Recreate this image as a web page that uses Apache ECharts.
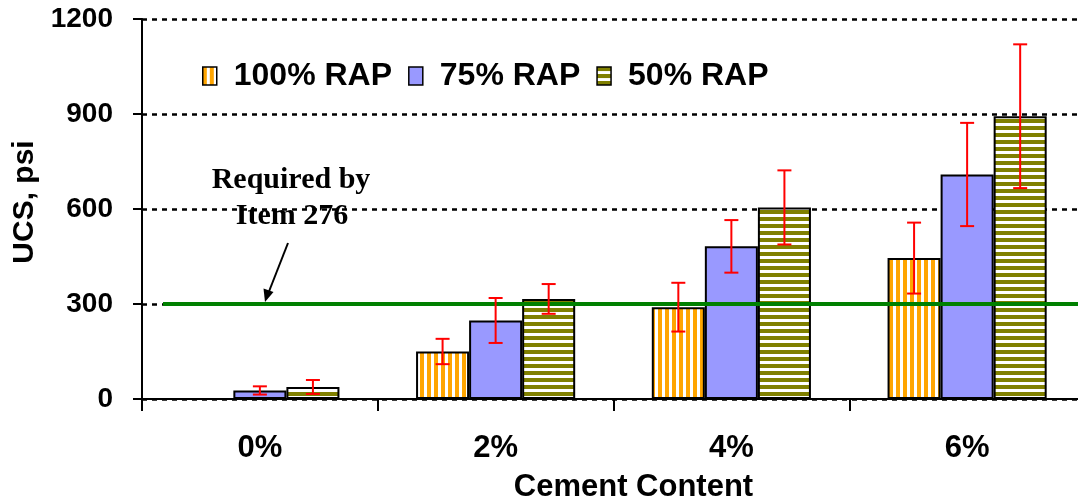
<!DOCTYPE html>
<html>
<head>
<meta charset="utf-8">
<script src="https://cdn.jsdelivr.net/npm/echarts@6/dist/echarts.min.js"></script>
<style>
  html, body { margin: 0; padding: 0; background: #fff; }
  #chart { width: 1078px; height: 503px; }
</style>
</head>
<body>
<div id="chart"></div>
<script>
// data
var categories = ['0%', '2%', '4%', '6%'];
var seriesNames = ['100% RAP', '75% RAP', '50% RAP'];
var rap100 = [0, 150, 290, 445];
var rap75 = [27, 248, 482, 709];
var rap50 = [38, 316, 605, 893];
var err100 = [0, 40, 77, 112];
var err75 = [13, 71, 83, 163];
var err50 = [22, 47, 117, 227];
var yTicks = [0, 300, 600, 900, 1200];
var requiredUcs = 300;

// fill patterns
function stripes(vertical, c1, c2, size, band) {
  var cv = document.createElement('canvas');
  cv.width = size; cv.height = size;
  var ctx = cv.getContext('2d');
  ctx.fillStyle = c2; ctx.fillRect(0, 0, size, size);
  ctx.fillStyle = c1;
  if (vertical) ctx.fillRect(0, 0, band, size);
  else ctx.fillRect(0, 0, size, band);
  return { image: cv, repeat: 'repeat' };
}
var orangePat = stripes(true, '#FFA500', '#ffffff', 7, 4);
var olivePat = stripes(false, '#808000', '#ffffff', 7, 4);
var fills = [orangePat, '#9999FF', olivePat];
var values = [rap100, rap75, rap50];
var errors = [err100, err75, err50];

var BAR_FRAC = 0.225;
var SANS = '"Liberation Sans", Arial, sans-serif';

function errRender(k) {
  return function (params, api) {
    var e = api.value(2);
    if (!e) return null;
    var c = api.value(0), v = api.value(1);
    var band = api.size([1, 0])[0];
    var x = api.coord([c, v])[0] + (k - 1) * band * BAR_FRAC;
    var hi = api.coord([c, v + e])[1];
    var lo = api.coord([c, v - e])[1];
    var cap = 7;
    var st = { stroke: '#ff0000', lineWidth: 2 };
    return {
      type: 'group',
      children: [
        { type: 'line', shape: { x1: x, y1: hi, x2: x, y2: lo }, style: st },
        { type: 'line', shape: { x1: x - cap, y1: hi, x2: x + cap, y2: hi }, style: st },
        { type: 'line', shape: { x1: x - cap, y1: lo, x2: x + cap, y2: lo }, style: st }
      ]
    };
  };
}

var series = [];
for (var k = 0; k < 3; k++) {
  series.push({
    name: seriesNames[k],
    type: 'bar',
    barWidth: (BAR_FRAC * 100) + '%',
    barGap: '0%',
    data: values[k],
    itemStyle: { color: fills[k], borderColor: '#000', borderWidth: 2 },
    markLine: k === 0 ? {
      silent: true,
      symbol: 'none',
      label: { show: false },
      lineStyle: { color: '#008000', width: 4, type: 'solid' },
      data: [[{ x: 163, yAxis: requiredUcs }, { x: 1090, yAxis: requiredUcs }]]
    } : undefined
  });
}
for (var k2 = 0; k2 < 3; k2++) {
  series.push({
    type: 'custom',
    z: 5,
    renderItem: errRender(k2),
    data: values[k2].map(function (v, i) { return [i, v, errors[k2][i]]; })
  });
}

var chart = echarts.init(document.getElementById('chart'));
chart.setOption({
  animation: false,
  backgroundColor: '#fff',
  grid: { left: 142, top: 19, bottom: 104, width: 943, outerBoundsMode: 'none', containLabel: false },
  legend: {
    data: seriesNames,
    icon: 'rect',
    left: 197, top: 55,
    itemWidth: 14, itemHeight: 18,
    itemGap: 16,
    itemStyle: { borderColor: '#000', borderWidth: 1.5 },
    textStyle: {
      fontFamily: SANS,
      fontWeight: 'bold', fontSize: 32, color: '#000',
      padding: [0, 0, 0, 12]
    }
  },
  xAxis: {
    type: 'category',
    data: categories,
    name: 'Cement Content',
    nameLocation: 'middle',
    nameGap: 73,
    nameTextStyle: {
      fontFamily: SANS,
      fontWeight: 'bold', fontSize: 31, color: '#000',
      padding: [0, 0, 0, 40]
    },
    axisLine: { lineStyle: { color: '#000', width: 2 } },
    axisTick: { show: true, length: 12, lineStyle: { color: '#000', width: 2 } },
    axisLabel: {
      margin: 34,
      fontFamily: SANS,
      fontWeight: 'bold', fontSize: 31, color: '#000'
    }
  },
  yAxis: {
    type: 'value',
    min: yTicks[0], max: yTicks[yTicks.length - 1], interval: 300,
    name: 'UCS, psi',
    nameLocation: 'middle',
    nameGap: 100,
    nameRotate: 90,
    nameTextStyle: {
      fontFamily: SANS,
      fontWeight: 'bold', fontSize: 30, color: '#000',
      padding: [0, 0, 0, 14]
    },
    axisLine: { show: true, lineStyle: { color: '#000', width: 2 } },
    axisTick: { show: true, length: 9, lineStyle: { color: '#000', width: 2 } },
    axisLabel: {
      margin: 29,
      formatter: function (v) { return String(v); },
      fontFamily: SANS,
      fontWeight: 'bold', fontSize: 28, color: '#000'
    },
    splitLine: { show: true, lineStyle: { color: '#000', width: 2.5, type: [5, 5] } }
  },
  graphic: [
    {
      type: 'text', x: 291, y: 180, z: 10,
      style: {
        text: 'Required by', fill: '#000',
        font: 'bold 30px "Liberation Serif", "Times New Roman", serif',
        textAlign: 'center', textVerticalAlign: 'middle'
      }
    },
    {
      type: 'text', x: 292, y: 216, z: 10,
      style: {
        text: 'Item 276', fill: '#000',
        font: 'bold 30px "Liberation Serif", "Times New Roman", serif',
        textAlign: 'center', textVerticalAlign: 'middle'
      }
    },
    {
      type: 'line', z: 10,
      shape: { x1: 288, y1: 243, x2: 268, y2: 294 },
      style: { stroke: '#000', lineWidth: 2 }
    },
    {
      type: 'polygon', z: 10,
      shape: { points: [[265, 302], [273.5, 292], [263.5, 288.5]] },
      style: { fill: '#000' }
    }
  ],
  series: series
});
</script>
</body>
</html>
